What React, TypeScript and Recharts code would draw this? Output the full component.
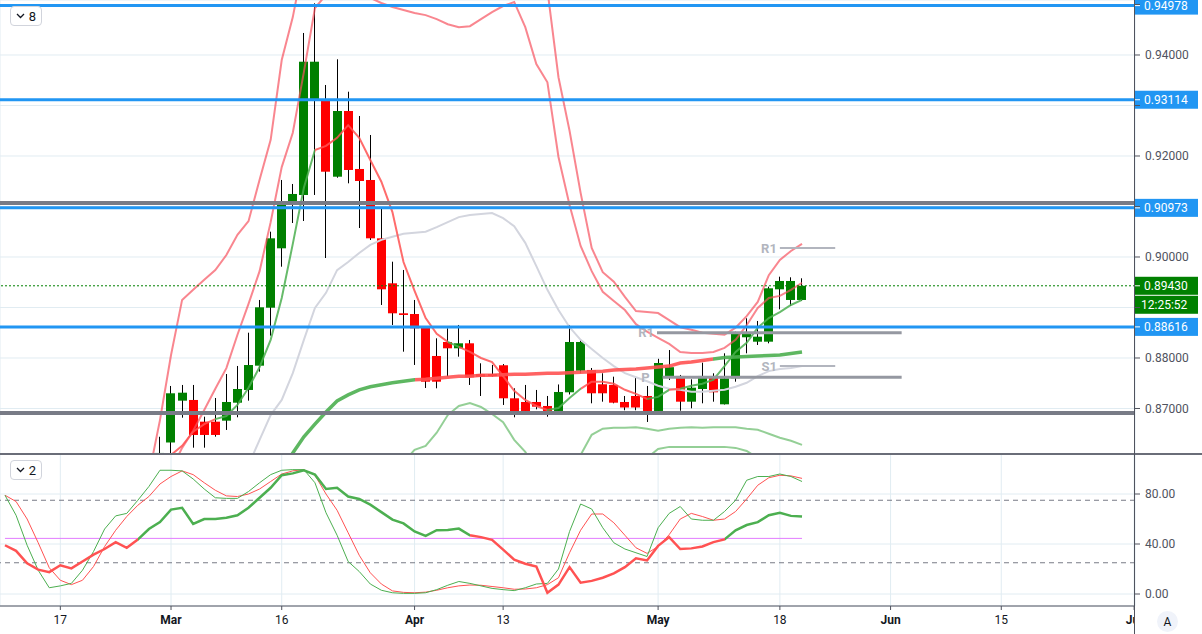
import React from "react";
import { Bar, CartesianGrid, ComposedChart, Line, ReferenceLine, XAxis, YAxis } from "recharts";

// trading days shown, Feb 10 .. May 20 (index -15 .. 57, Mar 2 = 0)
const dates = [
  "Feb 10", "Feb 11", "Feb 12", "Feb 13", "Feb 14", "Feb 17", "Feb 18", "Feb 19", "Feb 20", "Feb 21",
  "Feb 24", "Feb 25", "Feb 26", "Feb 27", "Feb 28",
  "Mar 2", "Mar 3", "Mar 4", "Mar 5", "Mar 6", "Mar 9", "Mar 10", "Mar 11", "Mar 12", "Mar 13",
  "Mar 16", "Mar 17", "Mar 18", "Mar 19", "Mar 20", "Mar 23", "Mar 24", "Mar 25", "Mar 26", "Mar 27",
  "Mar 30", "Mar 31",
  "Apr 1", "Apr 2", "Apr 3", "Apr 6", "Apr 7", "Apr 8", "Apr 9", "Apr 10", "Apr 13", "Apr 14",
  "Apr 15", "Apr 16", "Apr 17", "Apr 20", "Apr 21", "Apr 22", "Apr 23", "Apr 24", "Apr 27", "Apr 28",
  "Apr 29", "Apr 30",
  "May 1", "May 4", "May 5", "May 6", "May 7", "May 8", "May 11", "May 12", "May 13", "May 14",
  "May 15", "May 18", "May 19", "May 20",
];
const FIRST = -15;

// candles start at Feb 28 (index -1)
const candleFrom = -1;
const opens = [
  0.859, 0.86327, 0.87155, 0.87169, 0.86739, 0.86739, 0.86759, 0.87115, 0.87367, 0.87848, 0.88996,
  0.90172, 0.91109, 0.91228, 0.93095, 0.93123, 0.9159, 0.92891, 0.91743, 0.91525, 0.9037,
  0.89479, 0.88885, 0.88871, 0.886, 0.8804, 0.88317, 0.88192, 0.88291, 0.87683, 0.87683,
  0.87856, 0.87202, 0.87129, 0.87129, 0.8705, 0.86951, 0.87321, 0.87749, 0.87763, 0.8748,
  0.87466, 0.87129, 0.87248, 0.87248, 0.86951, 0.87634, 0.87644, 0.87135, 0.87386, 0.87644,
  0.87083, 0.87598, 0.8841, 0.88323, 0.88323, 0.8936, 0.89149, 0.89149,
];
const highs = [
  0.8644, 0.87446, 0.87466, 0.87466, 0.86838, 0.87208, 0.87683, 0.87842, 0.88501, 0.89149, 0.90501,
  0.91525, 0.91446, 0.94436, 0.95023, 0.93406, 0.93915, 0.93273, 0.92792, 0.92416, 0.9097,
  0.89907, 0.89743, 0.89149, 0.8862, 0.8839, 0.88588, 0.88654, 0.88357, 0.87895, 0.87862,
  0.8788, 0.874, 0.87466, 0.87367, 0.87248, 0.87476, 0.88654, 0.88376, 0.87802, 0.87697,
  0.8763, 0.87248, 0.87604, 0.87446, 0.87984, 0.88158, 0.87664, 0.87578, 0.87907, 0.87697,
  0.88093, 0.88521, 0.88786, 0.88733, 0.89412, 0.8961, 0.89598, 0.89578,
];
const lows = [
  0.8562, 0.8608, 0.86818, 0.86224, 0.86224, 0.86442, 0.86575, 0.86826, 0.87155, 0.87729, 0.88442,
  0.89808, 0.90673, 0.90713, 0.91228, 0.8998, 0.9157, 0.91459, 0.90574, 0.90337, 0.8905,
  0.88654, 0.88125, 0.87862, 0.87406, 0.874, 0.8763, 0.88026, 0.87466, 0.87248, 0.8763,
  0.8707, 0.86826, 0.86872, 0.86984, 0.86838, 0.86937, 0.87278, 0.87697, 0.87103, 0.87135,
  0.87103, 0.86965, 0.86965, 0.86733, 0.8694, 0.87564, 0.86956, 0.87004, 0.87103, 0.87135,
  0.87079, 0.87531, 0.88093, 0.88258, 0.88291, 0.88964, 0.8903, 0.89129,
];
const closes = [
  0.8612, 0.87301, 0.87313, 0.86476, 0.86476, 0.86476, 0.87129, 0.87386, 0.87861, 0.89004, 0.9037,
  0.9103, 0.91248, 0.93867, 0.93867, 0.91689, 0.92891, 0.91723, 0.91505, 0.9037, 0.8936,
  0.88885, 0.88852, 0.88588, 0.87531, 0.87531, 0.88192, 0.88291, 0.87618, 0.8763, 0.87644,
  0.87202, 0.86937, 0.86951, 0.87036, 0.86951, 0.87327, 0.88317, 0.88317, 0.87301, 0.87301,
  0.87115, 0.8702, 0.8702, 0.86951, 0.87901, 0.87818, 0.87135, 0.87412, 0.87644, 0.87321,
  0.87598, 0.88489, 0.88489, 0.88422, 0.8938, 0.89525, 0.89525, 0.8943,
];

// band lines on the price pane
const upperOuterFrom = -2;
const upperOuter = [
  0.8568, 0.8677, 0.8806, 0.8915, 0.8935, 0.8955, 0.8974, 0.9004, 0.9044, 0.9071, 0.9153, 0.9232,
  0.939, 0.9475, 0.9588, 0.9687, 0.9766, 0.9806, 0.9826, 0.9836, 0.9836, 0.9826, 0.9806, 0.9786,
  0.9766, 0.9756, 0.9747, 0.9747, 0.9747, 0.9743, 0.9737, 0.9727, 0.9707, 0.9687, 0.9648, 0.9588,
  0.9529, 0.9356, 0.925, 0.9127, 0.9018, 0.897, 0.8951, 0.8921, 0.8893, 0.8891, 0.8889, 0.8875,
  0.8861, 0.8856, 0.885, 0.8848, 0.8846, 0.886, 0.8883, 0.8911, 0.8964, 0.8994, 0.9012, 0.9026,
];
const upperInnerFrom = -1;
const upperInner = [
  0.8519, 0.8578, 0.8622, 0.8656, 0.8697, 0.8739, 0.878, 0.8846, 0.8907, 0.8972, 0.9069,
  0.9178, 0.9246, 0.9366, 0.9493, 0.9519, 0.9533, 0.9533, 0.9525, 0.9513, 0.9503,
  0.9495, 0.9489, 0.9483, 0.9479, 0.9471, 0.9461, 0.9455, 0.9457, 0.9471, 0.9485,
  0.9497, 0.9505, 0.9455, 0.9382, 0.9346, 0.9198, 0.9103, 0.9022, 0.8972, 0.8931,
  0.8913, 0.8895, 0.8867, 0.8852, 0.884, 0.8828, 0.8812, 0.881, 0.881, 0.8812,
  0.882, 0.8836, 0.8865, 0.8899, 0.8919, 0.8923, 0.8935, 0.8949,
];
const basisFrom = 6;
const basis = [
  0.8519, 0.8588, 0.8638, 0.8687, 0.8717, 0.877, 0.8836, 0.8899, 0.8929, 0.8974, 0.899, 0.9008,
  0.9024, 0.9034, 0.904, 0.9046, 0.9048, 0.905, 0.9059, 0.9069, 0.9079, 0.9083, 0.9085, 0.9087,
  0.9077, 0.9061, 0.9028, 0.8982, 0.8935, 0.8895, 0.8861, 0.8836, 0.8818, 0.88, 0.8784, 0.877,
  0.8762, 0.8754, 0.8745, 0.8739, 0.8737, 0.8733, 0.8733, 0.8735, 0.8737, 0.8743, 0.8751, 0.8764,
  0.8774, 0.8778, 0.878, 0.8784,
];
const lowerInnerFrom = 20;
const lowerInner = [
  0.8559, 0.8594, 0.8618, 0.8626, 0.8652, 0.8687, 0.8705, 0.8711, 0.8703, 0.8689, 0.8673, 0.8638,
  0.8614, 0.8578, 0.8559, 0.8559, 0.8578, 0.8608, 0.8648, 0.866, 0.8662, 0.8662, 0.8663, 0.866,
  0.8656, 0.866, 0.8662, 0.8663, 0.8662, 0.8663, 0.8663, 0.8663, 0.866, 0.8658, 0.865, 0.8642,
  0.8636, 0.8628,
];
const lowerOuterFrom = 35;
const lowerOuter = [
  0.8539, 0.8559, 0.8578, 0.8588, 0.8594, 0.8598, 0.8598, 0.86, 0.8602, 0.862, 0.8624, 0.8624,
  0.8624, 0.8624, 0.8624, 0.8624, 0.8622, 0.8616, 0.8602, 0.8586, 0.8568, 0.8549, 0.8529,
];
const fastMaFrom = -1;
const fastMa = [
  0.8578, 0.8608, 0.8626, 0.8654, 0.8669, 0.8679, 0.8685, 0.8707, 0.8741, 0.8782, 0.8836,
  0.8919, 0.9026, 0.9137, 0.9212, 0.922, 0.9236, 0.9261, 0.9236, 0.9192, 0.9149,
  0.9089, 0.899, 0.8933, 0.8879, 0.8848, 0.8832, 0.8822, 0.8812, 0.88, 0.8792,
  0.8764, 0.8735, 0.8717, 0.8705, 0.8697, 0.8701, 0.8721, 0.8739, 0.8753, 0.8753,
  0.8749, 0.8737, 0.8729, 0.8719, 0.8723, 0.8737, 0.8739, 0.8745, 0.8749, 0.8757,
  0.8784, 0.8812, 0.883, 0.886, 0.8879, 0.8891, 0.8905, 0.8915,
];
const slowMaFrom = 10;
const slowMa = [
  0.8578, 0.8612, 0.8644, 0.8669, 0.8693, 0.8715, 0.8727, 0.8737, 0.8743, 0.8747,
  0.8751, 0.8754, 0.8757, 0.8758, 0.876, 0.8762, 0.8764, 0.8764, 0.8766, 0.8766,
  0.8767, 0.8768, 0.8768, 0.8769, 0.877, 0.877, 0.8771, 0.8772, 0.8773, 0.8774,
  0.8776, 0.8777, 0.8778, 0.878, 0.8782, 0.8784, 0.879, 0.8792, 0.8795, 0.8798,
  0.8801, 0.8802, 0.8803, 0.8804, 0.8805, 0.8806, 0.8809, 0.8812,
];
// colour runs [start index, rising]
const fastMaRuns: [number, boolean][] = [
  [-1, false], [4, true], [13, false], [25, true], [26, false], [34, true],
  [37, false], [43, true], [45, false], [46, true],
];
const slowMaRuns: [number, boolean][] = [[10, true], [22, false], [49, true]];

// oscillator pane, index -15 .. 57
const stochK = [
  79, 63, 39, 19, 5, 6.5, 8.5, 19, 34, 52, 62.5, 64.5, 75, 86, 99,
  99, 98.5, 92, 84, 77, 76.5, 76.5, 82, 89, 95.5,
  99, 99.5, 99.5, 89, 65, 47, 26, 18, 8, 3,
  1, 0.5, 0.5, 1, 3.5, 7, 10, 8.5, 6.5, 4.5,
  3.5, 2.7, 5, 8, 8.5, 20, 50, 72, 68, 53,
  41, 36, 33, 30, 53, 64.5, 70, 60, 59, 59,
  66, 75, 91, 94, 94, 96, 94, 90,
];
const stochD = [
  79, 74, 60, 41, 21, 11, 7.5, 11, 22, 38, 51, 62, 71, 78, 88,
  94, 98.5, 95.5, 89, 83, 78.5, 78, 80, 84, 90,
  96, 98.5, 99.5, 95, 80, 67, 49, 31, 17, 8,
  2.5, 1.3, 1, 1.5, 3, 5, 6.5, 7.2, 7, 6,
  5, 3.8, 4, 5, 7.5, 13, 33, 51, 64, 64,
  57, 47, 37, 32.5, 38, 47.5, 60, 64.5, 62, 59,
  60, 66, 76, 87, 93, 95, 94.5, 92.5,
];
const stochSlow = [
  39, 34.5, 24.5, 19.5, 17.5, 23, 20.5, 26, 31.5, 36, 41.5, 37, 43.5, 52, 57.5,
  67.5, 69, 56, 60, 60, 61, 63, 69, 77, 85,
  95, 96.5, 99, 95.5, 84, 85, 78, 76, 71.5, 65.5,
  59.5, 56.5, 50, 46.5, 51, 51.2, 52.3, 47, 45.5, 43.3,
  35.5, 27.5, 24.2, 22, 1, 7.5, 21.5, 9, 10.5, 13,
  16.5, 21.5, 28.5, 26.8, 38.5, 45.5, 36, 36.5, 38, 41.5,
  43.7, 51, 55.2, 57.5, 63, 65, 62.5, 62,
];
const stochSlowRuns: [number, boolean][] = [[-15, false], [-3, true], [27, false], [50, true]];
const oscLevels = [75, 25];
const oscMid = 44.5;

// horizontal levels
const blueLevels = [0.94978, 0.93114, 0.90973, 0.88616];
const grayLevels = [0.9107, 0.8691];
const lastPrice = 0.8943;
const countdown = "12:25:52";
const pivots = [
  { name: "R1", value: 0.9018, from: 55, to: 60, major: false, gap: 3 },
  { name: "S1", value: 0.8784, from: 55, to: 60, major: false, gap: 3 },
  { name: "R1", value: 0.885, from: 43.9, to: 66, major: true, gap: 3 },
  { name: "P", value: 0.8762, from: 44.4, to: 66, major: true, gap: 13 },
];

// axes
const tickIdx = [-10, 0, 10, 22, 30, 44, 55, 65, 75, 87];
const tickLabels = ["17", "Mar", "16", "Apr", "13", "May", "18", "Jun", "15", "Jul"];
const monthLabels = ["Mar", "Apr", "May", "Jun", "Jul"];
const priceTicks = [0.87, 0.88, 0.89, 0.9, 0.91, 0.92, 0.93, 0.94, 0.95];
const coveredPriceTicks = [0.89, 0.91, 0.93, 0.95];
const oscTicks = [0, 40, 80];

const X_DOMAIN: [number, number] = [-15.45, 87.08];
const PRICE_DOMAIN: [number, number] = [0.86099, 0.95089];
const OSC_DOMAIN: [number, number] = [-9.6, 112];

const UP = "#008000";
const DOWN = "#ff0000";
const LINE_UP = "#4caf50";
const LINE_DOWN = "#ff5252";
const GRID = "#e1ecf2";
const AXIS = "#50535e";
const FONT = "Roboto, 'Liberation Sans', sans-serif";

const pick = (arr: number[], from: number, idx: number) => {
  const v = arr[idx - from];
  return v === undefined ? null : v;
};

const rows = dates.map((date, k) => {
  const idx = k + FIRST;
  return {
    idx,
    date,
    open: pick(opens, candleFrom, idx),
    high: pick(highs, candleFrom, idx),
    low: pick(lows, candleFrom, idx),
    close: pick(closes, candleFrom, idx),
    upperOuter: pick(upperOuter, upperOuterFrom, idx),
    upperInner: pick(upperInner, upperInnerFrom, idx),
    basis: pick(basis, basisFrom, idx),
    lowerInner: pick(lowerInner, lowerInnerFrom, idx),
    lowerOuter: pick(lowerOuter, lowerOuterFrom, idx),
    fastMa: pick(fastMa, fastMaFrom, idx),
    slowMa: pick(slowMa, slowMaFrom, idx),
    stochK: stochK[k],
    stochD: stochD[k],
    stochSlow: stochSlow[k],
  };
});

function runStops(runs: [number, boolean][], first: number, last: number) {
  const span = last - first;
  return runs.flatMap(([from, up], k) => {
    const to = k + 1 < runs.length ? runs[k + 1][0] : last;
    const color = up ? LINE_UP : LINE_DOWN;
    return [
      <stop key={`${k}a`} offset={(from - first) / span} stopColor={color} />,
      <stop key={`${k}b`} offset={(to - first) / span} stopColor={color} />,
    ];
  });
}

function Candle(props: any) {
  const { x, y, width, height, payload } = props;
  if (!payload || payload.open == null || !isFinite(y) || !isFinite(height)) return <g />;
  const { open, close, high, low } = payload;
  const top = Math.min(y, y + height);
  const span = Math.abs(height);
  const k = span / (high - low);
  const yOf = (v: number) => top + (high - v) * k;
  const bodyTop = yOf(Math.max(open, close));
  const bodyH = Math.max(1, yOf(Math.min(open, close)) - bodyTop);
  const cx = Math.round(x + width / 2 - 0.5) + 0.5;
  return (
    <g>
      <line x1={cx} x2={cx} y1={top} y2={top + span} stroke="#000" strokeWidth={1} />
      <rect x={cx - 4.5} y={bodyTop} width={9} height={bodyH} fill={close >= open ? UP : DOWN} />
    </g>
  );
}

function PriceTick({ x, y, payload }: any) {
  if (coveredPriceTicks.some((c) => Math.abs(c - payload.value) < 1e-7)) return <g />;
  return (
    <text x={x} y={y} dy="0.36em" fill={AXIS} fontSize={12} textAnchor="start">
      {payload.value.toFixed(5)}
    </text>
  );
}

function DateTick({ x, y, payload }: any) {
  const label = tickLabels[tickIdx.indexOf(payload.value)] ?? "";
  const month = monthLabels.includes(label);
  return (
    <text x={x} y={y} dy="0.71em" textAnchor="middle" fill="#131722" fontSize={12} fontWeight={month ? 700 : 400}>
      {label}
    </text>
  );
}

function AxisTag({ viewBox, tag, bg, extra }: any) {
  const x0 = viewBox.x + viewBox.width;
  const y0 = viewBox.y;
  return (
    <g>
      <rect x={x0} y={y0 - 9} width={63} height={18} fill={bg} />
      <line x1={x0} x2={x0 + 5} y1={y0} y2={y0} stroke="#fff" />
      <text x={x0 + 9} y={y0} dy="0.36em" fill="#fff" fontSize={12}>{tag}</text>
      {extra ? (
        <g>
          <rect x={x0} y={y0 + 10} width={63} height={18} fill={bg} />
          <text x={x0 + 6} y={y0 + 19} dy="0.36em" fill="#fff" fontSize={12}>{extra}</text>
        </g>
      ) : null}
    </g>
  );
}

function PivotLabel({ viewBox, name, gap }: any) {
  return (
    <text x={viewBox.x - gap} y={viewBox.y} dy="0.36em" textAnchor="end" fill="#b2b5be" fontSize={13} fontWeight={700}>
      {name}
    </text>
  );
}

function PaneBadge({ top, value }: { top: number; value: string }) {
  return (
    <div
      style={{
        position: "absolute", left: 10, top, width: 32, height: 20, boxSizing: "border-box",
        border: "1px solid #d1d4dc", borderRadius: 4, background: "#fff",
        display: "flex", alignItems: "center", justifyContent: "center", gap: 4,
        fontSize: 13, color: "#131722",
      }}
    >
      <svg width="9" height="6" viewBox="0 0 9 6">
        <path d="M1 1 L4.5 4.5 L8 1" fill="none" stroke="#131722" strokeWidth="1.3" />
      </svg>
      <span>{value}</span>
    </div>
  );
}

export default function App() {
  return (
    <div style={{ position: "absolute", left: 0, top: 0, width: 1202, height: 634, background: "#fff", overflow: "hidden", fontFamily: FONT }}>
      <div style={{ position: "absolute", left: 0, top: 0 }}>
        <ComposedChart width={1202} height={454} data={rows} margin={{ top: 0, right: 0, left: 0, bottom: 0 }}>
          <defs>
            <linearGradient id="fastMaGrad" x1="0" y1="0" x2="1" y2="0">
              {runStops(fastMaRuns, fastMaFrom, 57)}
            </linearGradient>
            <linearGradient id="slowMaGrad" x1="0" y1="0" x2="1" y2="0">
              {runStops(slowMaRuns, slowMaFrom, 57)}
            </linearGradient>
          </defs>
          <CartesianGrid stroke={GRID} />
          <XAxis type="number" dataKey="idx" domain={X_DOMAIN} allowDataOverflow ticks={tickIdx} interval={0}
            height={0} tick={false} tickLine={false} axisLine={false} />
          <YAxis orientation="right" width={67} domain={PRICE_DOMAIN} allowDataOverflow ticks={priceTicks} interval={0}
            axisLine={false} tickSize={5} tickMargin={5} tickLine={{ stroke: AXIS }} tick={<PriceTick />} />
          <Bar dataKey={(r: any) => (r.open == null ? null : [r.low, r.high])} barSize={9} shape={<Candle />} isAnimationActive={false} />
          <Line dataKey="basis" stroke="#d3d5de" strokeWidth={2} dot={false} isAnimationActive={false} />
          <Line dataKey="lowerOuter" stroke={LINE_UP} strokeOpacity={0.6} strokeWidth={2} dot={false} isAnimationActive={false} />
          <Line dataKey="lowerInner" stroke={LINE_UP} strokeOpacity={0.6} strokeWidth={2} dot={false} isAnimationActive={false} />
          <Line dataKey="upperOuter" stroke="#f7525f" strokeOpacity={0.7} strokeWidth={2} dot={false} isAnimationActive={false} />
          <Line dataKey="upperInner" stroke="#f7525f" strokeOpacity={0.7} strokeWidth={2} dot={false} isAnimationActive={false} />
          <Line dataKey="slowMa" stroke="url(#slowMaGrad)" strokeWidth={3.5} strokeOpacity={0.9} dot={false} isAnimationActive={false} />
          <Line dataKey="fastMa" stroke="url(#fastMaGrad)" strokeWidth={2} strokeOpacity={0.85} dot={false} isAnimationActive={false} />
          {pivots.map((p, k) => (
            <ReferenceLine key={`pv${k}`} segment={[{ x: p.from, y: p.value }, { x: p.to, y: p.value }]}
              stroke={p.major ? "#9598a1" : "#b2b5be"} strokeWidth={p.major ? 3 : 2}
              label={(lp: any) => <PivotLabel viewBox={lp.viewBox} name={p.name} gap={p.gap} />} />
          ))}
          {grayLevels.map((v) => (
            <ReferenceLine key={`g${v}`} y={v} stroke="#787b86" strokeWidth={4} />
          ))}
          <ReferenceLine y={lastPrice} stroke={UP} strokeDasharray="2 2"
            label={(lp: any) => <AxisTag viewBox={lp.viewBox} tag={lastPrice.toFixed(5)} bg={UP} extra={countdown} />} />
          {blueLevels.map((v) => (
            <ReferenceLine key={`b${v}`} y={v} stroke="#2196f3" strokeWidth={3}
              label={(lp: any) => <AxisTag viewBox={lp.viewBox} tag={v.toFixed(5)} bg="#2196f3" />} />
          ))}
        </ComposedChart>
      </div>

      <div style={{ position: "absolute", left: 0, top: 454 }}>
        <ComposedChart width={1202} height={180} data={rows} margin={{ top: 0, right: 0, left: 0, bottom: 0 }}>
          <defs>
            <linearGradient id="stochSlowGrad" x1="0" y1="0" x2="1" y2="0">
              {runStops(stochSlowRuns, FIRST, 57)}
            </linearGradient>
          </defs>
          <CartesianGrid stroke={GRID} />
          <XAxis type="number" dataKey="idx" domain={X_DOMAIN} allowDataOverflow ticks={tickIdx} interval={0}
            height={28} tickSize={4} tickMargin={5} axisLine={{ stroke: AXIS }} tickLine={{ stroke: AXIS }} tick={<DateTick />} />
          <YAxis orientation="right" width={67} domain={OSC_DOMAIN} allowDataOverflow ticks={oscTicks} interval={0}
            axisLine={false} tickSize={5} tickMargin={5} tickLine={{ stroke: AXIS }}
            tick={{ fill: AXIS, fontSize: 12 }} tickFormatter={(v: number) => v.toFixed(2)} />
          {oscLevels.map((v) => (
            <ReferenceLine key={`o${v}`} y={v} stroke="#787b86" strokeDasharray="5 4" />
          ))}
          <ReferenceLine segment={[{ x: FIRST, y: oscMid }, { x: 57, y: oscMid }]} stroke="#e27bff" />
          <Line dataKey="stochD" stroke={LINE_DOWN} strokeWidth={1} dot={false} isAnimationActive={false} />
          <Line dataKey="stochK" stroke={LINE_UP} strokeWidth={1} dot={false} isAnimationActive={false} />
          <Line dataKey="stochSlow" stroke="url(#stochSlowGrad)" strokeWidth={2.5} dot={false} isAnimationActive={false} />
        </ComposedChart>
      </div>

      <div style={{ position: "absolute", left: 0, top: 453, width: 1202, height: 2, background: "#6a6d78" }} />
      <div style={{ position: "absolute", left: 1135, top: 607, width: 67, height: 27, background: "#fff" }} />
      <div style={{ position: "absolute", left: 1134, top: 0, width: 1, height: 634, background: AXIS }} />
      <div
        style={{
          position: "absolute", left: 1157, top: 611, width: 21, height: 21, borderRadius: "50%",
          background: "#f0f3fa", color: "#131722", fontSize: 12, display: "flex",
          alignItems: "center", justifyContent: "center",
        }}
      >
        A
      </div>
      <PaneBadge top={6} value="8" />
      <PaneBadge top={460} value="2" />
    </div>
  );
}
